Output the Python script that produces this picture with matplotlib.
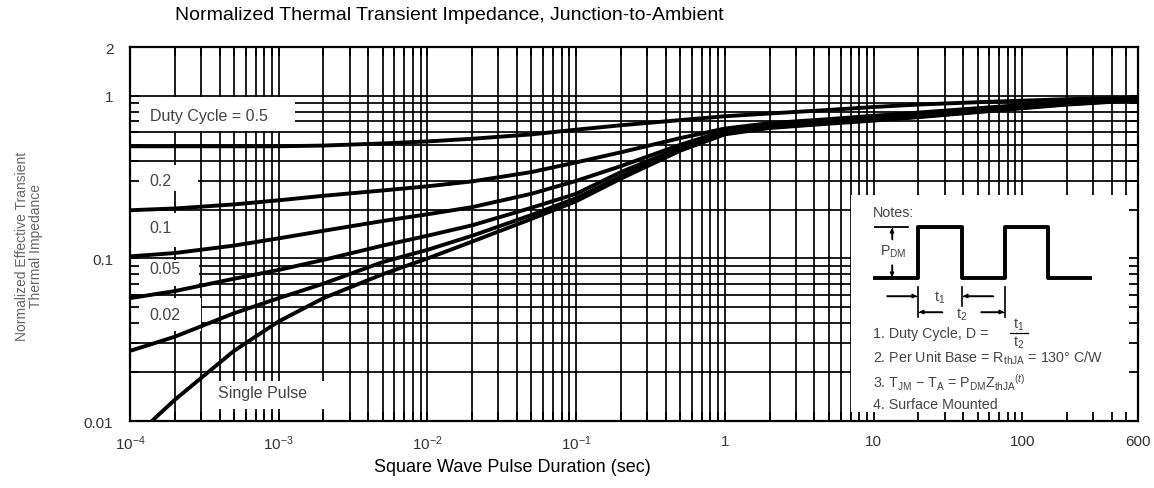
import numpy as np
import matplotlib
matplotlib.use("Agg")
import matplotlib.pyplot as plt
from matplotlib.patches import Rectangle
from matplotlib.lines import Line2D
from matplotlib.transforms import Affine2D

plt.rcParams['font.family'] = ['Liberation Sans', 'DejaVu Sans']
plt.rcParams['mathtext.fontset'] = 'custom'
plt.rcParams['mathtext.rm'] = 'Liberation Sans'
plt.rcParams['mathtext.it'] = 'Liberation Sans:italic'
plt.rcParams['mathtext.bf'] = 'Liberation Sans:bold'

# ---------------- data ----------------
pulse_time = [1e-4, 2e-4, 5e-4, 1e-3, 2e-3, 5e-3, 1e-2, 2e-2, 5e-2, 0.1, 0.2, 0.5,
              1, 2, 5, 10, 20, 50, 100, 200, 600]
duty_05 = [0.49, 0.49, 0.49, 0.49, 0.495, 0.51, 0.525, 0.545, 0.58, 0.62, 0.66, 0.71,
           0.75, 0.78, 0.82, 0.855, 0.885, 0.915, 0.935, 0.955, 0.975]
duty_02 = [0.198, 0.203, 0.215, 0.228, 0.243, 0.262, 0.278, 0.298, 0.34, 0.39, 0.45, 0.55,
           0.63, 0.68, 0.72, 0.755, 0.79, 0.84, 0.88, 0.92, 0.96]
duty_01 = [0.103, 0.108, 0.12, 0.133, 0.148, 0.17, 0.187, 0.207, 0.25, 0.30, 0.37, 0.50,
           0.61, 0.66, 0.70, 0.735, 0.77, 0.82, 0.86, 0.90, 0.95]
duty_005 = [0.057, 0.063, 0.075, 0.085, 0.098, 0.12, 0.138, 0.16, 0.205, 0.25, 0.34, 0.48,
            0.60, 0.65, 0.69, 0.72, 0.755, 0.81, 0.85, 0.895, 0.95]
duty_002 = [0.027, 0.033, 0.046, 0.057, 0.07, 0.095, 0.113, 0.138, 0.185, 0.235, 0.32, 0.47,
            0.59, 0.64, 0.68, 0.71, 0.745, 0.80, 0.845, 0.89, 0.945]
single_pulse = [0.0075, 0.0135, 0.027, 0.041, 0.057, 0.08, 0.10, 0.127, 0.175, 0.225, 0.31,
                0.46, 0.58, 0.635, 0.675, 0.705, 0.74, 0.795, 0.84, 0.885, 0.94]
series = [duty_05, duty_02, duty_01, duty_005, duty_002, single_pulse]

x_ticks = [1e-4, 1e-3, 1e-2, 1e-1, 1, 10, 100, 600]
x_ticklabels = [r'$10^{-4}$', r'$10^{-3}$', r'$10^{-2}$', r'$10^{-1}$', '1', '10', '100', '600']
y_ticks = [0.01, 0.1, 1, 2]
y_ticklabels = ['0.01', '0.1', '1', '2']

W, H = 1154, 489
fig = plt.figure(figsize=(W / 100, H / 100), dpi=100)
ax = fig.add_axes([130 / W, 1 - 422 / H, (1138 - 130) / W, (422 - 48) / H])
ax.set_xscale('log')
ax.set_yscale('log')
ax.set_xlim(1e-4, 600)
ax.set_ylim(0.01, 2)

# grid (drawn manually so that the label boxes can hide it)
xgrid = [m * 10.0 ** e for e in range(-4, 3) for m in range(1, 10) if 1e-4 < m * 10.0 ** e < 600]
ygrid = [m * 10.0 ** e for e in range(-2, 1) for m in range(1, 10) if 0.01 < m * 10.0 ** e < 2]
for v in xgrid:
    ax.axvline(v, color='black', lw=1.25, zorder=1)
for v in ygrid:
    ax.axhline(v, color='black', lw=1.25, zorder=1)

# white label boxes (data coordinates)
boxes = [
    (1e-4, 1.28e-3, 0.61, 0.98),
    (1e-4, 2.86e-4, 0.26, 0.375),
    (1e-4, 2.86e-4, 0.118, 0.19),
    (1e-4, 2.9e-4, 0.068, 0.098),
    (1e-4, 3.0e-4, 0.036, 0.057),
    (3.44e-4, 2.2e-3, 0.0118, 0.0177),
    (7.0, 600, 0.01, 0.245),
]
for x0, x1, y0, y1 in boxes:
    ax.add_patch(Rectangle((x0, y0), x1 - x0, y1 - y0, facecolor='white',
                           edgecolor='none', zorder=1.5))

ax.set_axisbelow(False)
for s in ax.spines.values():
    s.set_linewidth(1.6)
    s.set_zorder(2.5)

for ys in series:
    ax.plot(pulse_time, ys, color='black', lw=2.8, zorder=3, solid_capstyle='butt',
            solid_joinstyle='round')

ax.set_xticks(x_ticks)
ax.set_xticklabels(x_ticklabels)
ax.set_xticks([v for v in xgrid if v not in x_ticks], minor=True)
ax.set_xticklabels([], minor=True)
ax.set_yticks(y_ticks)
ax.set_yticklabels(y_ticklabels)
ax.set_yticks([v for v in ygrid if v not in y_ticks], minor=True)
ax.set_yticklabels([], minor=True)
ax.tick_params(which='both', direction='in', top=True, right=True, length=6.5,
               width=1.3, color='black')
ax.tick_params(axis='x', which='major', pad=9, labelsize=11, labelcolor='#333333')
ax.tick_params(axis='y', which='major', pad=12, labelsize=11, labelcolor='#333333')

fig.text(512 / W, 1 - 468 / H, 'Square Wave Pulse Duration (sec)', fontsize=13,
         ha='center', va='center', color='black')
fig.text(175 / W, 1 - 16 / H, 'Normalized Thermal Transient Impedance, Junction-to-Ambient',
         fontsize=14, ha='left', va='center')
fig.text(29 / W, 1 - 246 / H, 'Normalized Effective Transient\nThermal Impedance',
         rotation=90, fontsize=10, ha='center', va='center', color='#666666',
         linespacing=1.0)

# curve labels
lab_kw = dict(fontsize=11.5, color='#444444', va='center', ha='left', zorder=4)
ax.text(1.36e-4, 0.763, 'Duty Cycle = 0.5', **lab_kw)
ax.text(1.36e-4, 0.303, '0.2', **lab_kw)
ax.text(1.36e-4, 0.155, '0.1', **lab_kw)
ax.text(1.36e-4, 0.0866, '0.05', **lab_kw)
ax.text(1.36e-4, 0.0451, '0.02', **lab_kw)
ax.text(3.9e-4, 0.0149, 'Single Pulse', **lab_kw)

# ---------------- notes inset (image-pixel positions) ----------------
tp = Affine2D().scale(1 / W, -1 / H).translate(0, 1) + fig.transFigure
note_kw = dict(fontsize=10.3, color='#444444', transform=tp, va='center', ha='left')

def pline(xs, ys, lw=1.2):
    fig.add_artist(Line2D(xs, ys, color='black', lw=lw, transform=tp, zorder=5))

def parrow(x0, y0, x1, y1):
    fig.add_artist(Line2D([x0, x1], [y0, y1], color='black', lw=1.0, transform=tp))
    ax.annotate('', xy=(x1, y1), xytext=(x0, y0), xycoords=tp, textcoords=tp,
                arrowprops=dict(arrowstyle='-|>', color='black', lw=1.0,
                                mutation_scale=6, shrinkA=0, shrinkB=0))

fig.text(873, 213, 'Notes:', **note_kw)
pline([875, 918, 918, 962, 962, 1005, 1005, 1048, 1048, 1090],
      [279, 279, 228, 228, 279, 279, 228, 228, 279, 279], lw=2.8)
pline([875, 908], [228, 228], lw=1.3)
parrow(892, 240, 892, 229)
fig.text(880, 252, r'P$_{\mathrm{DM}}$', **note_kw)
parrow(892, 266, 892, 278)
# t1 / t2 dimensions
pline([918, 918], [288, 318])
pline([962, 962], [288, 307])
pline([1005, 1005], [288, 318])
parrow(887, 297, 917, 297)
parrow(993, 297, 963, 297)
fig.text(934, 298, r't$_1$', **note_kw)
parrow(942, 313, 919, 313)
parrow(981, 313, 1004, 313)
fig.text(956, 315, r't$_2$', **note_kw)
fig.text(873, 334, '1. Duty Cycle, D = ', **note_kw)
fig.text(1013, 325, r't$_1$', **note_kw)
pline([1010, 1028], [334, 334], lw=0.9)
fig.text(1013, 343, r't$_2$', **note_kw)
fig.text(873, 358, r'2. Per Unit Base = R$_{\mathrm{thJA}}$ = 130° C/W', **note_kw)
fig.text(873, 383, r'3. T$_{\mathrm{JM}}$ − T$_{\mathrm{A}}$ = P$_{\mathrm{DM}}$Z$_{\mathrm{thJA}}$$^{(t)}$', **note_kw)
fig.text(873, 405, '4. Surface Mounted', **note_kw)

fig.savefig('out.png', dpi=100)
